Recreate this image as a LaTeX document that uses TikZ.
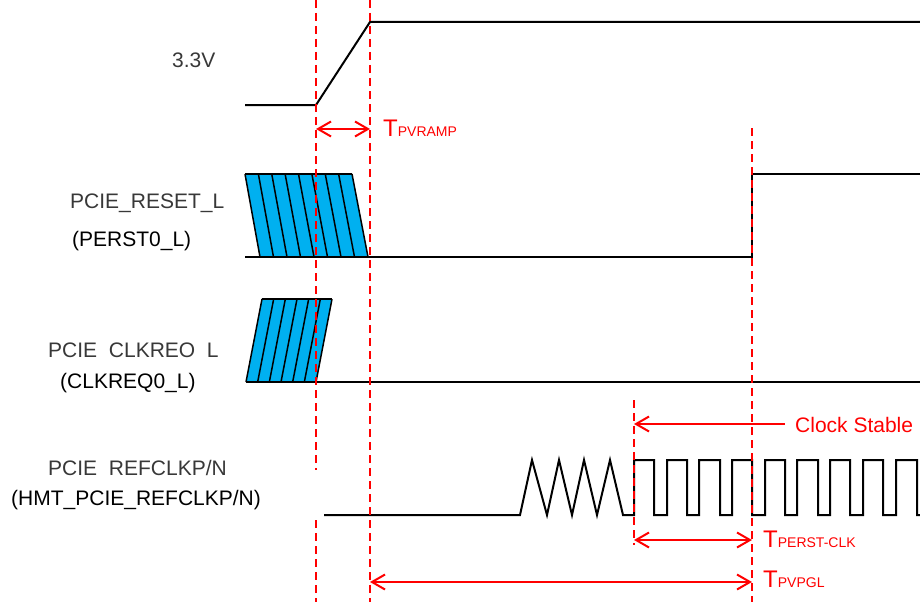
\documentclass[tikz,border=0pt]{standalone}
\usepackage{fontspec}
\setmainfont{Liberation Sans}
\usetikzlibrary{arrows.meta}
\definecolor{sigblue}{HTML}{00B0F0}
\definecolor{tred}{HTML}{FF0000}
\definecolor{lblgray}{HTML}{383838}
\newcommand{\Tsub}[1]{{\fontsize{24}{26}\selectfont T}{\fontsize{14}{16}\selectfont #1}}
\begin{document}
\begin{tikzpicture}[x=1pt,y=-1pt,
  sig/.style={line width=2pt, black, line join=miter},
  stripe/.style={line width=1.5pt, black, line join=miter},
  guide/.style={tred, line width=2pt, dash pattern=on 8pt off 5pt},
  meas/.style={tred, line width=2pt},
  both/.style={meas, {Straight Barb[length=13pt,width=15pt,line width=2pt]}-{Straight Barb[length=13pt,width=15pt,line width=2pt]}},
  toleft/.style={meas, {Straight Barb[length=13pt,width=15pt,line width=2pt]}-},
  lbl/.style={font=\fontsize{21}{24}\selectfont, inner sep=0pt, anchor=base west},
  glbl/.style={lbl, text=lblgray},
  tlbl/.style={inner sep=0pt, anchor=base west, text=tred},
]
\useasboundingbox (0,0) rectangle (920,602);

% labels
\node[glbl] (l33) at (172,67) {3.3V};
\node[glbl] (lrst) at (70,208) {PCIE\_RESET\_L};
\node[lbl] (lrst2) at (72,246) {(PERST0\_L)};
\node[glbl] (lreq) at (48,357) {PCIE\ \hspace{0.28em}CLKREO\ \hspace{0.28em}L};
\node[lbl] (lreq2) at (60,388) {(CLKREQ0\_L)};
\node[glbl] (lclk) at (48,475) {PCIE\ \hspace{0.28em}REFCLKP/N};
\node[lbl] (lclk2) at (11,505) {(HMT\_PCIE\_REFCLKP/N)};

% 3.3V
\draw[sig] (245,105) -- (316,105) -- (370,22) -- (920,22);

% PCIE_RESET_L
\fill[sigblue] (245,174) -- (352,174) -- (368,257) -- (260,257) -- cycle;
\foreach \i in {0,...,8} {
  \draw[stripe] ({245+13.375*\i},174) -- ({260+13.5*\i},257);
}
\draw[stripe] (245,174) -- (352,174);
\draw[sig] (245,257) -- (752,257) -- (752,174) -- (920,174);

% PCIE_CLKREQ_L
\fill[sigblue] (262,299) -- (332,299) -- (316,382) -- (246,382) -- cycle;
\foreach \i in {0,...,6} {
  \draw[stripe] ({262+11.667*\i},299) -- ({246+11.667*\i},382);
}
\draw[stripe] (262,299) -- (332,299);
\draw[sig] (246,382) -- (920,382);

% REFCLK
\draw[sig] (324,515) -- (520,515) -- (532,460) -- (547,515) -- (559,460) -- (572,515)
  -- (584,460) -- (597,515) -- (610,460) -- (623,515) -- (634,515)
  -- (634,460) -- (654,460) -- (654,515) -- (667,515) -- (667,460) -- (687,460)
  -- (687,515) -- (699,515) -- (699,460) -- (720,460) -- (720,515) -- (732,515)
  -- (732,460) -- (752,460) -- (752,515) -- (765,515) -- (765,460) -- (785,460)
  -- (785,515) -- (797,515) -- (797,460) -- (818,460) -- (818,515) -- (830,515)
  -- (830,460) -- (850,460) -- (850,515) -- (863,515) -- (863,460) -- (883,460)
  -- (883,515) -- (896,515) -- (896,460) -- (917,460) -- (917,515) -- (920,515);

% guides
\draw[guide] (316,0) -- (316,470);
\draw[guide] (316,520) -- (316,602);
\draw[guide] (370,0) -- (370,602);
\draw[guide] (752,128) -- (752,602);
\draw[guide] (634,400) -- (634,545);

% measurement coordinates
\coordinate (ra) at (316,129);
\coordinate (rb) at (370,129);
\coordinate (ca) at (634,424);
\coordinate (cb) at (785,424);
\coordinate (pa) at (634,540);
\coordinate (pb) at (752,540);
\coordinate (ga) at (370,582);
\coordinate (gb) at (752,582);

\draw[both] (ra) -- (rb);
\draw[toleft] (ca) -- (cb);
\draw[both] (pa) -- (pb);
\draw[both] (ga) -- (gb);

\node[tlbl] (tramp) at (383,136) {\Tsub{PVRAMP}};
\node[tlbl, font=\fontsize{21}{24}\selectfont] (tstab) at (795,432) {Clock Stable};
\node[tlbl] (tperst) at (763,547) {\Tsub{PERST-CLK}};
\node[tlbl] (tpvgl) at (763,587) {\Tsub{PVPGL}};
\end{tikzpicture}
\end{document}
